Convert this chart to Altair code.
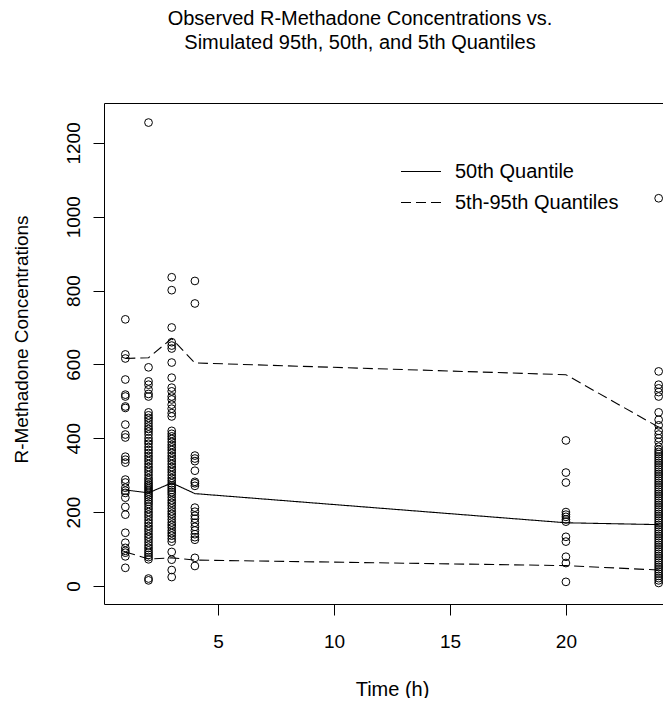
import altair as alt
import pandas as pd

# Observed concentrations by sampling time (h)
t1 = [722, 627, 616, 559, 518, 513, 486, 482, 437, 410, 402, 350, 342, 334, 288, 280,
      266, 258, 252, 239, 214, 193, 144, 117, 103, 95, 90, 80, 49]
t2 = [1255, 592, 554, 545, 532, 520, 513, 470, 462, 455, 448, 440, 432, 425, 418, 410,
      400, 392, 385, 376, 368, 360, 352, 345, 338, 330, 322, 315, 308, 300, 292, 286,
      280, 275, 270, 265, 260, 255, 250, 245, 240, 234, 228, 222, 215, 208, 200, 193,
      186, 178, 170, 162, 155, 148, 140, 133, 126, 118, 110, 103, 96, 90, 84, 78, 72,
      20, 15]
t3 = [836, 801, 700, 660, 651, 643, 605, 564, 537, 527, 513, 505, 491, 480, 468, 459,
      420, 412, 405, 398, 390, 382, 375, 368, 360, 352, 345, 338, 330, 322, 315, 308,
      300, 292, 285, 278, 272, 266, 260, 254, 248, 240, 232, 225, 218, 210, 202, 195,
      188, 180, 172, 165, 158, 150, 143, 136, 128, 120, 92, 71, 43, 24]
t4 = [826, 765, 353, 345, 338, 312, 282, 278, 271, 212, 201, 190, 182, 171, 160, 150,
      140, 132, 125, 76, 54]
t20 = [394, 307, 280, 200, 193, 187, 180, 174, 133, 120, 79, 62, 11]
t24 = [1050, 581, 545, 535, 525, 513, 470, 450, 435, 420, 410, 400, 390, 377, 369, 363,
       357, 351, 345, 339, 333, 327, 321, 315, 309, 303, 297, 291, 285, 279, 273, 267,
       261, 255, 249, 243, 237, 231, 225, 219, 213, 207, 201, 195, 189, 183, 177, 171,
       165, 159, 153, 147, 141, 135, 129, 123, 117, 111, 105, 99, 93, 87, 81, 75, 69,
       63, 57, 51, 45, 39, 33, 27, 21, 15, 8]

# Simulated quantiles
q_times = [1, 2, 3, 4, 20, 24]
q05 = [92, 73, 76, 70, 55, 43]
q50 = [260, 252, 279, 250, 171, 166]
q95 = [616, 618, 670, 604, 572, 430]

obs_rows = []
for t, vals in [(1, t1), (2, t2), (3, t3), (4, t4), (20, t20), (24, t24)]:
    for v in vals:
        obs_rows.append({"time": t, "conc": v})
obs = pd.DataFrame(obs_rows)

q_rows = []
for name, vals, kind in [("5th", q05, "5th-95th Quantiles"),
                         ("50th", q50, "50th Quantile"),
                         ("95th", q95, "5th-95th Quantiles")]:
    for t, v in zip(q_times, vals):
        q_rows.append({"time": t, "conc": v, "q": name, "type": kind})
quant = pd.DataFrame(q_rows)

FONT = "Liberation Sans"
FS = 20
TICK_FS = 19

xscale = alt.Scale(domain=[0.08, 24.92], nice=False, zero=False)
yscale = alt.Scale(domain=[-49, 1308], nice=False, zero=False)

xaxis = alt.Axis(title="Time (h)", values=[5, 10, 15, 20], format="d", grid=False,
                 domain=False, tickSize=11, tickColor="black", labelFontSize=TICK_FS,
                 labelFont=FONT, labelColor="black", labelPadding=17, titleFont=FONT,
                 titleFontSize=FS, titleFontWeight="normal", titleColor="black",
                 titleX=288, titleY=85, titleBaseline="middle", titleAlign="center")
yaxis = alt.Axis(title="R-Methadone Concentrations", values=[0, 200, 400, 600, 800, 1000, 1200],
                 format="d", grid=False, domain=False, tickSize=11, tickColor="black",
                 labelFontSize=TICK_FS, labelFont=FONT, labelColor="black", labelAngle=270,
                 labelAlign="center", labelBaseline="bottom", labelPadding=10,
                 titleFont=FONT, titleFontSize=19, titleFontWeight="normal",
                 titleColor="black", titleAngle=270, titleX=-83, titleY=236,
                 titleAlign="center", titleBaseline="middle")

points = alt.Chart(obs).mark_point(shape="circle", filled=False, size=60,
                                   color="black", strokeWidth=1, opacity=1).encode(
    x=alt.X("time:Q", scale=xscale, axis=xaxis),
    y=alt.Y("conc:Q", scale=yscale, axis=yaxis),
)

lines = alt.Chart(quant).mark_line(color="black", strokeWidth=1.1).encode(
    x=alt.X("time:Q", scale=xscale),
    y=alt.Y("conc:Q", scale=yscale),
    detail="q:N",
    strokeDash=alt.StrokeDash(
        "type:N",
        scale=alt.Scale(domain=["50th Quantile", "5th-95th Quantiles"],
                        range=[[1, 0], [10, 5]]),
        legend=alt.Legend(title=None, orient="none", legendX=296, legendY=47.5,
                          symbolType="stroke", symbolSize=1600, symbolStrokeColor="black",
                          symbolStrokeWidth=1.2, labelFont=FONT, labelFontSize=FS,
                          labelColor="black", labelOffset=13, labelLimit=0,
                          rowPadding=0),
    ),
)

chart = alt.layer(points, lines).properties(
    width=576, height=501,
    title=alt.TitleParams(
        text=["Observed R-Methadone Concentrations vs.",
              "Simulated 95th, 50th, and 5th Quantiles"],
        font=FONT, fontSize=FS, fontWeight="normal", color="black",
        anchor="middle", dx=-32, offset=50, lineHeight=24),
    autosize=alt.AutoSizeParams(type="none"),
    padding={"left": 96, "top": 95, "right": -17, "bottom": 94},
).configure(background="white").configure_view(stroke="black", strokeWidth=1)

chart.save("out.html", embed_options={"renderer": "svg", "actions": False})
